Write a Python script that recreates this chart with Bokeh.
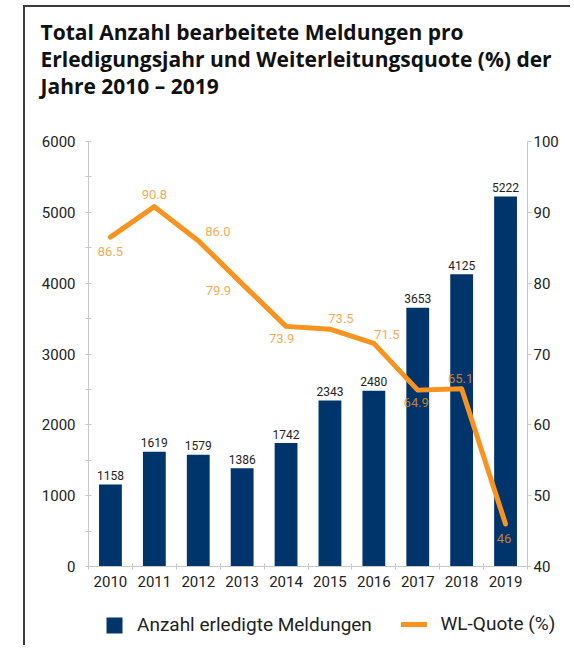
from bokeh.plotting import figure
from bokeh.layouts import column
from bokeh.models import (Range1d, LinearAxis, FixedTicker, ColumnDataSource,
                          Legend, LegendItem, Title)
from bokeh.core.properties import value
from bokeh.embed import file_html
from bokeh.resources import INLINE

# ---- data ----
years = ["2010", "2011", "2012", "2013", "2014", "2015", "2016", "2017", "2018", "2019"]
meldungen = [1158, 1619, 1579, 1386, 1742, 2343, 2480, 3653, 4125, 5222]
wl_quote = [86.5, 90.8, 86.0, 79.9, 73.9, 73.5, 71.5, 64.9, 65.1, 46]
wl_labels = ["86.5", "90.8", "86.0", "79.9", "73.9", "73.5", "71.5", "64.9", "65.1", "46"]
left_ticks = [0, 1000, 2000, 3000, 4000, 5000, 6000]
right_ticks = [40, 50, 60, 70, 80, 90, 100]
title_lines = ["Total Anzahl bearbeitete Meldungen pro",
               "Erledigungsjahr und Weiterleitungsquote (%) der",
               "Jahre 2010 \u2013 2019"]
legend_labels = ["Anzahl erledigte Meldungen", "WL-Quote (%)"]

# ---- styles ----
NAVY = "#00356B"
ORANGE = "#F7931E"
TXT = "#222222"
AXC = "#C8C8C8"
FONT = "Roboto"
TFONT = "Open Sans"
# label offsets for line value labels (screen px)
wl_dx = [0, 0, 7, -11, -4.5, 11, 13, -1.5, -1, -1.5]
wl_dy = [14.5, -12, -9, 7, 12.5, -11.2, -8.5, 12.5, -10.5, 14.5]
wl_align = ["center", "center", "left", "right", "center", "center", "center", "center", "center", "center"]

n = len(years)
centers = [i + 0.5 for i in range(n)]

p = figure(width=545, height=593, output_backend="svg", toolbar_location=None,
           x_range=Range1d(0, n), y_range=Range1d(left_ticks[0], left_ticks[-1]),
           min_border_left=63, min_border_right=43, min_border_top=134, min_border_bottom=34,
           x_axis_type=None, y_axis_type=None)
p.outline_line_color = None
p.xgrid.visible = False
p.ygrid.visible = False
p.extra_y_ranges = {"wl": Range1d(right_ticks[0], right_ticks[-1])}

# left axis
minor_left = [v + 500 for v in left_ticks[:-1]]
yl = LinearAxis(ticker=FixedTicker(ticks=left_ticks, minor_ticks=minor_left))
yl.axis_line_color = AXC
yl.major_tick_line_color = AXC
yl.minor_tick_line_color = AXC
yl.major_tick_in = 3
yl.major_tick_out = 3
yl.minor_tick_in = 3
yl.minor_tick_out = 3
yl.major_label_standoff = 10
yl.major_label_text_font = FONT
yl.major_label_text_font_size = "15px"
yl.major_label_text_color = TXT
p.add_layout(yl, "left")

# right axis
yr = LinearAxis(y_range_name="wl", ticker=FixedTicker(ticks=right_ticks, minor_ticks=[]))
yr.axis_line_color = AXC
yr.major_tick_line_color = AXC
yr.minor_tick_line_color = None
yr.major_tick_in = 0
yr.major_tick_out = 4
yr.major_label_standoff = 2
yr.major_label_text_font = FONT
yr.major_label_text_font_size = "15px"
yr.major_label_text_color = TXT
p.add_layout(yr, "right")

# bottom axis: labels at centres, ticks at category boundaries
xb = LinearAxis(ticker=FixedTicker(ticks=centers, minor_ticks=list(range(n + 1))))
xb.major_label_overrides = {c: y for c, y in zip(centers, years)}
xb.axis_line_color = AXC
xb.major_tick_line_color = None
xb.major_tick_in = 0
xb.major_tick_out = 0
xb.minor_tick_line_color = AXC
xb.minor_tick_in = 3
xb.minor_tick_out = 3
xb.major_label_standoff = 6
xb.major_label_text_font = FONT
xb.major_label_text_font_size = "15px"
xb.major_label_text_color = TXT
p.add_layout(xb, "below")

src = ColumnDataSource(dict(x=centers, m=meldungen, mlab=[str(v) for v in meldungen],
                            w=wl_quote, wlab=wl_labels, dx=wl_dx, dy=wl_dy, al=wl_align))

bars = p.vbar(x="x", top="m", width=0.52, source=src, fill_color=NAVY, line_color=None)
p.text(x="x", y="m", text="mlab", source=src, y_offset=-9, text_align="center",
       text_baseline="alphabetic", text_font=value(FONT), text_font_size="12px", text_color=TXT)

line = p.line(x="x", y="w", source=src, y_range_name="wl", line_color=ORANGE, line_width=5,
              line_join="round", line_cap="round")
p.text(x="x", y="w", text="wlab", source=src, y_range_name="wl", x_offset="dx", y_offset="dy",
       text_align="al", text_baseline="alphabetic", text_font=value(FONT), text_font_size="13px",
       text_color=ORANGE, text_alpha=0.8)

# spacer between title block and plot frame, then title lines bottom-up
p.add_layout(Title(text=" ", standoff=14, text_font=TFONT, text_font_size="20px"), "above")
for t in reversed(title_lines):
    p.add_layout(Title(text=t, align="left", offset=-48, standoff=-3,
                       text_font=TFONT, text_font_style="bold", text_font_size="21px",
                       text_color="#111111"), "above")

# ---- legend strip (separate figure; legend proxies share the chart's data) ----
lf = figure(width=545, height=45, output_backend="svg", toolbar_location=None,
            x_axis_type=None, y_axis_type=None,
            min_border_left=63, min_border_right=0, min_border_top=0, min_border_bottom=0,
            x_range=Range1d(0, n), y_range=Range1d(0, 1))
try:
    lf.frame_align = False
except Exception:
    pass
lf.outline_line_color = None
lf.xgrid.visible = False
lf.ygrid.visible = False
bar_proxy = lf.vbar(x="x", top="m", width=0.52, source=src, fill_color=NAVY,
                    line_color=None, visible=False)
line_proxy = lf.line(x="x", y="w", source=src, line_color=ORANGE, line_width=5,
                     line_cap="round", visible=False)
leg_common = dict(orientation="horizontal", padding=0, margin=0, spacing=0,
                  border_line_color=None, background_fill_alpha=0,
                  inactive_fill_alpha=0, label_height=20,
                  label_text_font=FONT, label_text_font_size="19px", label_text_color=TXT)
leg1 = Legend(items=[LegendItem(label=legend_labels[0], renderers=[bar_proxy])],
              location=(16, 9), glyph_width=20, glyph_height=20, label_standoff=13,
              **leg_common)
leg2 = Legend(items=[LegendItem(label=legend_labels[1], renderers=[line_proxy])],
              location=(312.5, 10), glyph_width=26, glyph_height=20, label_standoff=14,
              **leg_common)
lf.add_layout(leg1)
lf.add_layout(leg2)

layout = column(p, lf, spacing=0, margin=(5, 0, 0, 23),
                styles={"border-left": "2px solid #3c3c3c", "border-top": "2px solid #3c3c3c"})

open("out.html", "w").write(file_html(layout, INLINE))
